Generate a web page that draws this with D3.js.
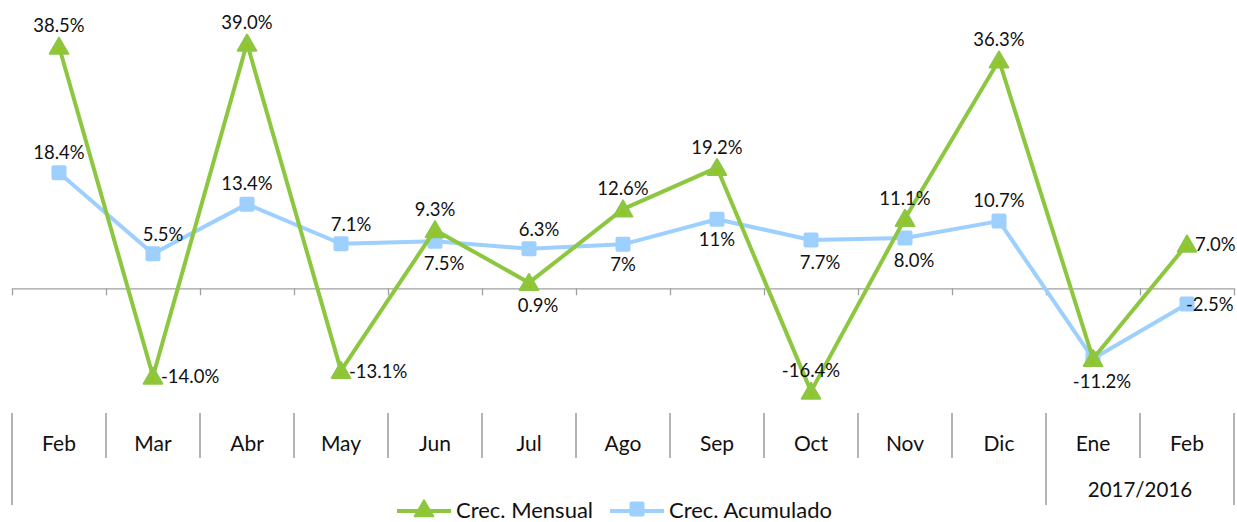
<!DOCTYPE html>
<html>
<head>
<meta charset="utf-8">
<script src="https://cdn.jsdelivr.net/npm/d3@7"></script>
<style>
  body { margin: 0; background: #fff; }
  svg { display: block; font-family: Lato, "Open Sans", sans-serif; }
</style>
</head>
<body>
<div id="chart"></div>
<script>
// Data
const months = ['Feb', 'Mar', 'Abr', 'May', 'Jun', 'Jul', 'Ago', 'Sep', 'Oct', 'Nov', 'Dic', 'Ene', 'Feb'];
const mensual = [38.5, -14.0, 39.0, -13.1, 9.3, 0.9, 12.6, 19.2, -16.4, 11.1, 36.3, -11.2, 7.0];
const acumulado = [18.4, 5.5, 13.4, 7.1, 7.5, 6.3, 7, 11, 7.7, 8.0, 10.7, -11.2, -2.5];
const mensualLabels = ['38.5%', '-14.0%', '39.0%', '-13.1%', '9.3%', '0.9%', '12.6%', '19.2%', '-16.4%', '11.1%', '36.3%', '', '7.0%'];
const acumuladoLabels = ['18.4%', '5.5%', '13.4%', '7.1%', '7.5%', '6.3%', '7%', '11%', '7.7%', '8.0%', '10.7%', '-11.2%', '-2.5%'];
const mensualPlace = ['top', 'right', 'top', 'right', 'top', 'bottomright', 'top', 'top', 'top', 'top', 'top', 'none', 'right'];
const acumuladoPlace = ['top', 'topright', 'top', 'topright', 'bottomright', 'topright', 'bottom', 'bottom', 'bottomright', 'bottomright', 'top', 'bottomright', 'over'];
const yearGroups = [
    { label: '', from: 0, to: 11 },
    { label: '2017/2016', from: 11, to: 13 }
];
const seriesNames = ['Crec. Mensual', 'Crec. Acumulado'];

const width = 1237, height = 522;
const margin = { left: 12, right: 1234, top: 37, bottom: 414 };
const green = '#8dc63f', greenInner = '#9bc21a', blue = '#9dcfff';

const svg = d3.select('#chart').append('svg')
    .attr('width', width)
    .attr('height', height);

const idx = months.map((_, i) => i);
const x = d3.scaleBand().domain(idx).range([margin.left, margin.right]).padding(0);
const xEdge = d3.scaleLinear().domain([0, months.length]).range([margin.left, margin.right]);
const y = d3.scaleLinear().domain([-20, 40]).range([margin.bottom, margin.top]);
const cx = i => x(i) + x.bandwidth() / 2;

// zero axis with ticks at the category edges
svg.append('g')
    .attr('transform', `translate(0,${y(0)})`)
    .call(d3.axisBottom(xEdge).tickValues(d3.range(months.length + 1)).tickFormat('').tickSize(7).tickSizeOuter(0))
    .call(g => g.selectAll('path, line').attr('stroke', '#a0a0a0').attr('stroke-width', 1.3));

// category table under the plot
const table = svg.append('g').attr('stroke', '#8c8c8c').attr('stroke-width', 1.3);
const rowTop = 413, rowMid = 458, rowBottom = 505;
d3.range(months.length + 1).forEach(i => {
    const long = yearGroups.some(g => g.from === i || g.to === i);
    table.append('line')
        .attr('x1', xEdge(i)).attr('x2', xEdge(i))
        .attr('y1', rowTop).attr('y2', long ? rowBottom : rowMid);
});

svg.append('g').selectAll('text')
    .data(months)
    .join('text')
    .attr('x', (d, i) => cx(i))
    .attr('y', 451)
    .attr('text-anchor', 'middle')
    .attr('font-size', 21)
    .attr('fill', '#111')
    .text(d => d);

svg.append('g').selectAll('text')
    .data(yearGroups.filter(g => g.label))
    .join('text')
    .attr('x', d => (xEdge(d.from) + xEdge(d.to)) / 2)
    .attr('y', 497)
    .attr('text-anchor', 'middle')
    .attr('font-size', 20.5)
    .attr('fill', '#111')
    .text(d => d.label);

const line = d3.line().x((d, i) => cx(i)).y(d => y(d));

const tri = d3.symbol().type(d3.symbolTriangle).size(150);
const triInner = d3.symbol().type(d3.symbolTriangle).size(20);

function drawSeries(values, color, marker) {
    const g = svg.append('g');
    g.append('path')
        .datum(values)
        .attr('fill', 'none')
        .attr('stroke', color)
        .attr('stroke-width', 4)
        .attr('stroke-linejoin', 'round')
        .attr('d', line);
    marker(g.selectAll('g.m').data(values).join('g')
        .attr('class', 'm')
        .attr('transform', (d, i) => `translate(${cx(i)},${y(d)})`));
}

function triangles(sel) {
    sel.append('path').attr('d', tri).attr('fill', green)
        .attr('stroke', green).attr('stroke-width', 2).attr('stroke-linejoin', 'round')
        .attr('transform', 'translate(0,2)');
    sel.append('path').attr('d', triInner).attr('fill', greenInner)
        .attr('transform', 'translate(0,3)');
}

function squares(sel) {
    sel.append('rect')
        .attr('x', -7.5).attr('y', -7.5)
        .attr('width', 15).attr('height', 15)
        .attr('rx', 2)
        .attr('fill', blue);
}

drawSeries(acumulado, blue, squares);
drawSeries(mensual, green, triangles);

// data labels
function placeLabels(values, labels, places) {
    const off = {
        top: [0, -14, 'middle'],
        bottom: [0, 27, 'middle'],
        right: [8, 7, 'start'],
        over: [-1, 7, 'start'],
        topright: [10, -13, 'middle'],
        bottomright: [9, 29, 'middle']
    };
    svg.append('g').selectAll('text')
        .data(values.map((v, i) => ({ v, i, t: labels[i], p: places[i] })).filter(d => d.t && d.p !== 'none'))
        .join('text')
        .attr('x', d => cx(d.i) + off[d.p][0])
        .attr('y', d => y(d.v) + off[d.p][1])
        .attr('text-anchor', d => off[d.p][2])
        .attr('font-size', 18.5)
        .attr('fill', '#111')
        .text(d => d.t);
}
placeLabels(mensual, mensualLabels, mensualPlace);
placeLabels(acumulado, acumuladoLabels, acumuladoPlace);

// legend
const legend = svg.append('g').attr('transform', 'translate(397,511)');
const items = [
    { name: seriesNames[0], color: green, marker: triangles, x: 0 },
    { name: seriesNames[1], color: blue, marker: squares, x: 213 }
];
items.forEach(it => {
    const g = legend.append('g').attr('transform', `translate(${it.x},0)`);
    g.append('line').attr('x1', 0).attr('x2', 54).attr('stroke', it.color).attr('stroke-width', 4);
    it.marker(g.append('g').attr('transform', 'translate(27,-2)'));
    g.append('text').attr('x', 59).attr('y', 7).attr('font-size', 22).attr('fill', '#111').text(it.name);
});
</script>
</body>
</html>
